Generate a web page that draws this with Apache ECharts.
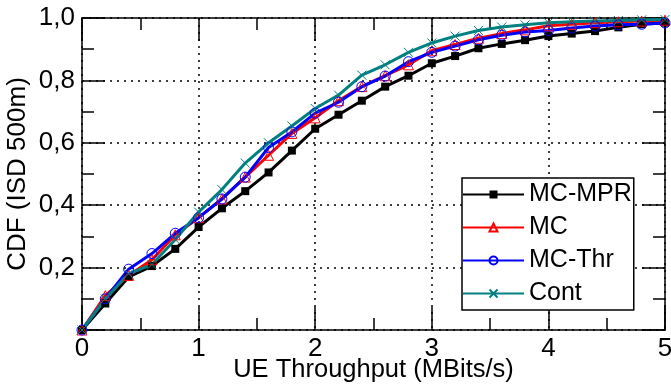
<!DOCTYPE html>
<html>
<head>
<meta charset="utf-8">
<script src="https://cdn.jsdelivr.net/npm/echarts@6/dist/echarts.min.js"></script>
<style>
html,body{margin:0;padding:0;background:#fff;}
#chart{width:671px;height:387px;}
</style>
</head>
<body>
<div id="chart"></div>
<script>
var throughput = [0,0.2,0.4,0.6,0.8,1.0,1.2,1.4,1.6,1.8,2.0,2.2,2.4,2.6,2.8,3.0,3.2,3.4,3.6,3.8,4.0,4.2,4.4,4.6,4.8,5.0];
var cdfMcMpr = [0,0.085,0.17,0.205,0.26,0.33,0.39,0.445,0.505,0.575,0.645,0.69,0.735,0.78,0.815,0.855,0.878,0.903,0.917,0.929,0.942,0.95,0.958,0.97,0.98,0.985];
var cdfMc    = [0,0.11,0.175,0.225,0.305,0.36,0.42,0.49,0.56,0.63,0.68,0.735,0.78,0.815,0.85,0.895,0.915,0.935,0.95,0.962,0.975,0.98,0.985,0.988,0.99,0.993];
var cdfMcThr = [0,0.10,0.195,0.245,0.31,0.36,0.42,0.49,0.585,0.635,0.695,0.73,0.78,0.814,0.86,0.89,0.91,0.93,0.945,0.955,0.96,0.968,0.974,0.978,0.98,0.984];
var cdfCont  = [0,0.10,0.18,0.21,0.29,0.378,0.45,0.535,0.6,0.654,0.71,0.753,0.817,0.85,0.89,0.92,0.942,0.96,0.971,0.978,0.985,0.988,0.99,0.992,0.994,0.995];
var seriesNames = ['MC-MPR','MC','MC-Thr','Cont'];
var xTitle = 'UE Throughput (MBits/s)';
var yTitle = 'CDF (ISD 500m)';

function pairs(ys){ return throughput.map(function(x,i){ return [x, ys[i]]; }); }

var FONT = 'Liberation Sans, Arial, sans-serif';
var chart = echarts.init(document.getElementById('chart'), null, {renderer:'canvas'});

function axisCommon(showLabel, showSplit){
  return {
    axisLine:{show:true, onZero:false, lineStyle:{color:'#000', width:1.5}},
    axisTick:{show:true, inside:true, length:23, lineStyle:{color:'#000', width:1.5}},
    minorTick:{show:true, splitNumber:2, length:12, lineStyle:{color:'#000', width:1.5}},
    splitLine:{show:showSplit, lineStyle:{color:'#000', width:1.5, type:[2,5]}},
    axisLabel:{show:showLabel}
  };
}

var xBottom = Object.assign(axisCommon(true,true), {
  type:'value', position:'bottom', min:0, max:5, interval:1,
  name:xTitle, nameLocation:'middle', nameGap:27, nameMoveOverlap:false,
  nameTextStyle:{fontFamily:FONT, fontSize:25.5, color:'#000'}
});
xBottom.axisLabel = {show:true, margin:6, fontFamily:FONT, fontSize:26, color:'#000'};
var xTop = Object.assign(axisCommon(false,false), {type:'value', position:'top', min:0, max:5, interval:1});

var yLeft = Object.assign(axisCommon(true,true), {
  type:'value', position:'left', min:0, max:1, interval:0.2,
  name:yTitle, nameLocation:'middle', nameGap:51, nameMoveOverlap:false,
  nameTextStyle:{fontFamily:FONT, fontSize:26, color:'#000'}
});
yLeft.axisLabel = {show:true, margin:7, fontFamily:FONT, fontSize:26, color:'#000',
  formatter:function(v){ return v===0 ? '' : v.toFixed(1).replace('.', ','); }};
var yRight = Object.assign(axisCommon(false,false), {type:'value', position:'right', min:0, max:1, interval:0.2});

var crossPath = 'path://M0,0L10,10M0,10L10,0';

chart.setOption({
  animation:false,
  backgroundColor:'#fff',
  grid:{left:82, right:6, top:18, bottom:57, containLabel:false, outerBoundsMode:'none'},
  xAxis:[xBottom, xTop],
  yAxis:[yLeft, yRight],
  legend:{
    orient:'vertical', left:462, top:178,
    padding:[4,2,4,0], itemGap:8, itemWidth:61, itemHeight:10,
    backgroundColor:'#fff', borderColor:'#000', borderWidth:1.5,
    textStyle:{fontFamily:FONT, fontSize:25, color:'#000', lineHeight:25},
    data:seriesNames
  },
  series:[
    {name:seriesNames[0], type:'line', data:pairs(cdfMcMpr), symbol:'rect', symbolSize:8,
     lineStyle:{color:'#000', width:3}, itemStyle:{color:'#000'}},
    {name:seriesNames[1], type:'line', data:pairs(cdfMc), symbol:'triangle', symbolSize:10,
     lineStyle:{color:'#ff0000', width:3}, itemStyle:{color:'none', borderColor:'#ff0000', borderWidth:1}},
    {name:seriesNames[2], type:'line', data:pairs(cdfMcThr), symbol:'circle', symbolSize:10,
     lineStyle:{color:'#0000ff', width:3}, itemStyle:{color:'none', borderColor:'#0000ff', borderWidth:1}},
    {name:seriesNames[3], type:'line', data:pairs(cdfCont), symbol:crossPath, symbolSize:9,
     lineStyle:{color:'#008080', width:3}, itemStyle:{color:'none', borderColor:'#008080', borderWidth:1}}
  ]
});
</script>
</body>
</html>
